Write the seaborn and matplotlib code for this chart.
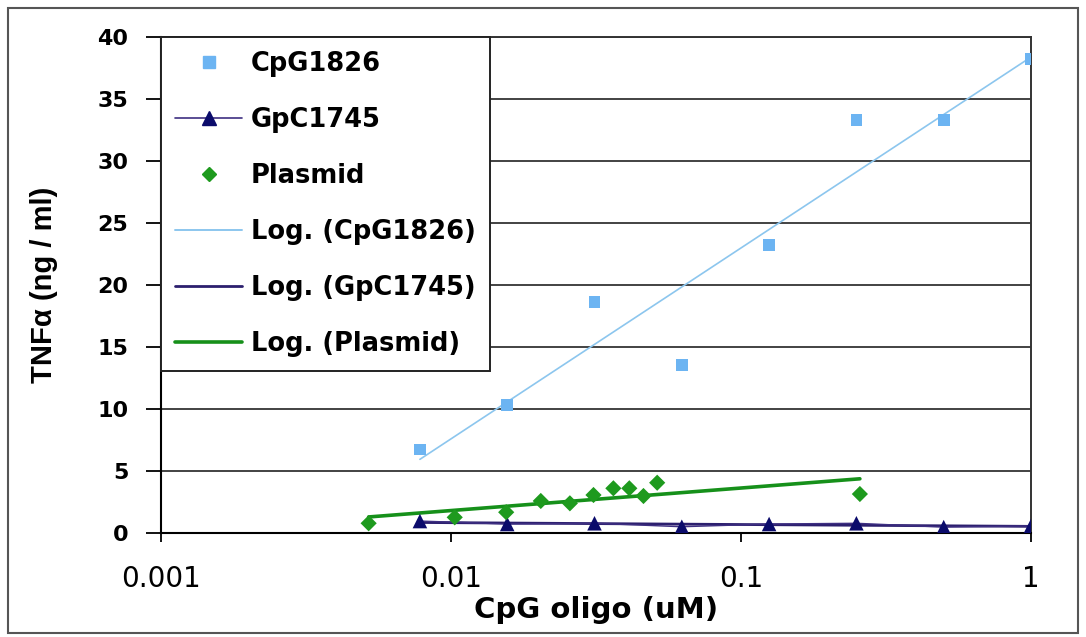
import matplotlib
matplotlib.use("Agg")
import matplotlib.pyplot as plt
from matplotlib.lines import Line2D
from matplotlib.patches import Rectangle
from matplotlib.ticker import NullLocator
import numpy as np
import seaborn as sns

# data
cpg_x = [0.0078125, 0.015625, 0.03125, 0.0625, 0.125, 0.25, 0.5, 1.0]
cpg_y = [6.7, 10.3, 18.6, 13.5, 23.2, 33.3, 33.3, 38.2]
gpc_x = [0.0078125, 0.015625, 0.03125, 0.0625, 0.125, 0.25, 0.5, 1.0]
gpc_y = [0.94, 0.70, 0.76, 0.48, 0.70, 0.76, 0.45, 0.55]
plasmid_x = [0.0052, 0.0103, 0.0155, 0.0204, 0.0257, 0.031, 0.0363, 0.0412, 0.0461, 0.0514, 0.257]
plasmid_y = [0.76, 1.24, 1.65, 2.56, 2.37, 3.04, 3.58, 3.58, 2.96, 4.03, 3.12]

x_ticks = [0.001, 0.01, 0.1, 1]
x_tick_labels = ["0.001", "0.01", "0.1", "1"]
y_ticks = [0, 5, 10, 15, 20, 25, 30, 35, 40]

cpg_color = "#6cb4f2"
cpg_trend = "#8cc6ee"
gpc_color = "#0b0b6b"
gpc_line = "#3e2f82"
gpc_trend = "#2c1f6e"
pl_color = "#1e9a1e"
pl_trend = "#16901a"


def log_trend(xs, ys):
    # Excel-style logarithmic trendline: y = a*ln(x) + b
    a, b = np.polyfit(np.log(xs), ys, 1)
    xx = np.geomspace(min(xs), max(xs), 200)
    return xx, a * np.log(xx) + b


sns.set_style("white")
plt.rcParams['font.family'] = ['DejaVu Sans']
plt.rcParams['text.color'] = 'black'
plt.rcParams['axes.labelcolor'] = 'black'
plt.rcParams['xtick.color'] = 'black'
plt.rcParams['ytick.color'] = 'black'

fig = plt.figure(figsize=(10.86, 6.37), dpi=100)
ax = fig.add_axes([161 / 1086, 1 - 532.7 / 637, 870 / 1086, 496 / 637])

# trendlines
tx, ty = log_trend(cpg_x, cpg_y)
sns.lineplot(x=tx, y=ty, color=cpg_trend, lw=1.2, ax=ax, zorder=3)
tx, ty = log_trend(gpc_x, gpc_y)
sns.lineplot(x=tx, y=ty, color=gpc_trend, lw=2, ax=ax, zorder=3)
tx, ty = log_trend(plasmid_x, plasmid_y)
sns.lineplot(x=tx, y=ty, color=pl_trend, lw=2.6, ax=ax, zorder=3)

# series
sns.lineplot(x=gpc_x, y=gpc_y, color=gpc_line, lw=1, ax=ax, zorder=3)
sns.scatterplot(x=cpg_x, y=cpg_y, marker="s", s=70, color=cpg_color, edgecolor="none", ax=ax, zorder=4)
sns.scatterplot(x=gpc_x, y=gpc_y, marker="^", s=110, color=gpc_color, edgecolor="none", ax=ax, zorder=4)
sns.scatterplot(x=plasmid_x, y=plasmid_y, marker="D", s=68, color=pl_color, edgecolor="none", ax=ax, zorder=4)

ax.set_xscale("log")
ax.set_xlim(0.001, 1)
ax.set_ylim(0, 40)
ax.set_xticks(x_ticks)
ax.set_xticklabels(x_tick_labels)
ax.xaxis.set_minor_locator(NullLocator())
ax.set_yticks(y_ticks)
ax.set_yticklabels([str(v) for v in y_ticks], fontweight="bold")

ax.yaxis.grid(True, color="#222222", lw=1.2)
ax.xaxis.grid(False)
ax.set_axisbelow(True)
for side in ["top", "right"]:
    ax.spines[side].set_color("#333333")
    ax.spines[side].set_linewidth(1.4)
for side in ["left", "bottom"]:
    ax.spines[side].set_color("black")
    ax.spines[side].set_linewidth(1.5)

ax.tick_params(axis="y", direction="out", length=10.5, width=1.3, pad=13,
               labelsize=16, left=True, color="black")
ax.tick_params(axis="x", direction="out", length=6.5, width=1.3, pad=17,
               labelsize=20, bottom=True, color="black")

ax.set_xlabel("CpG oligo (uM)", fontsize=21, fontweight="bold")
ax.xaxis.set_label_coords(0.5, -0.128)
ax.set_ylabel("TNF\u03b1 (ng / ml)", fontsize=21, fontweight="bold",
              family=["Liberation Sans", "DejaVu Sans"])
ax.yaxis.set_label_coords(-0.118, 0.5)

handles = [
    Line2D([], [], ls="none", marker="s", ms=8, color=cpg_color),
    Line2D([], [], color=gpc_line, lw=1.2, marker="^", ms=10, mfc=gpc_color, mec=gpc_color),
    Line2D([], [], ls="none", marker="D", ms=7, color=pl_color),
    Line2D([], [], color=cpg_trend, lw=1.4),
    Line2D([], [], color=gpc_trend, lw=2),
    Line2D([], [], color=pl_trend, lw=2.6),
]
labels = ["CpG1826", "GpC1745", "Plasmid", "Log. (CpG1826)", "Log. (GpC1745)", "Log. (Plasmid)"]
leg = ax.legend(handles, labels, loc="upper left", bbox_to_anchor=(0, 1), borderaxespad=0,
                prop={"weight": "bold", "size": 18.5}, frameon=True, fancybox=False,
                framealpha=1, edgecolor="#222222", handlelength=2.6, handletextpad=0.35,
                labelspacing=1.17, borderpad=0.55)
leg.get_frame().set_linewidth(1.4)
leg.set_zorder(10)

# outer chart-area border
fig.patches.append(Rectangle((8 / 1086, 1 - 633 / 637), 1070 / 1086, 625 / 637,
                             transform=fig.transFigure, fill=False, edgecolor="#555555", lw=1.5))

fig.savefig("out.png", dpi=100)
